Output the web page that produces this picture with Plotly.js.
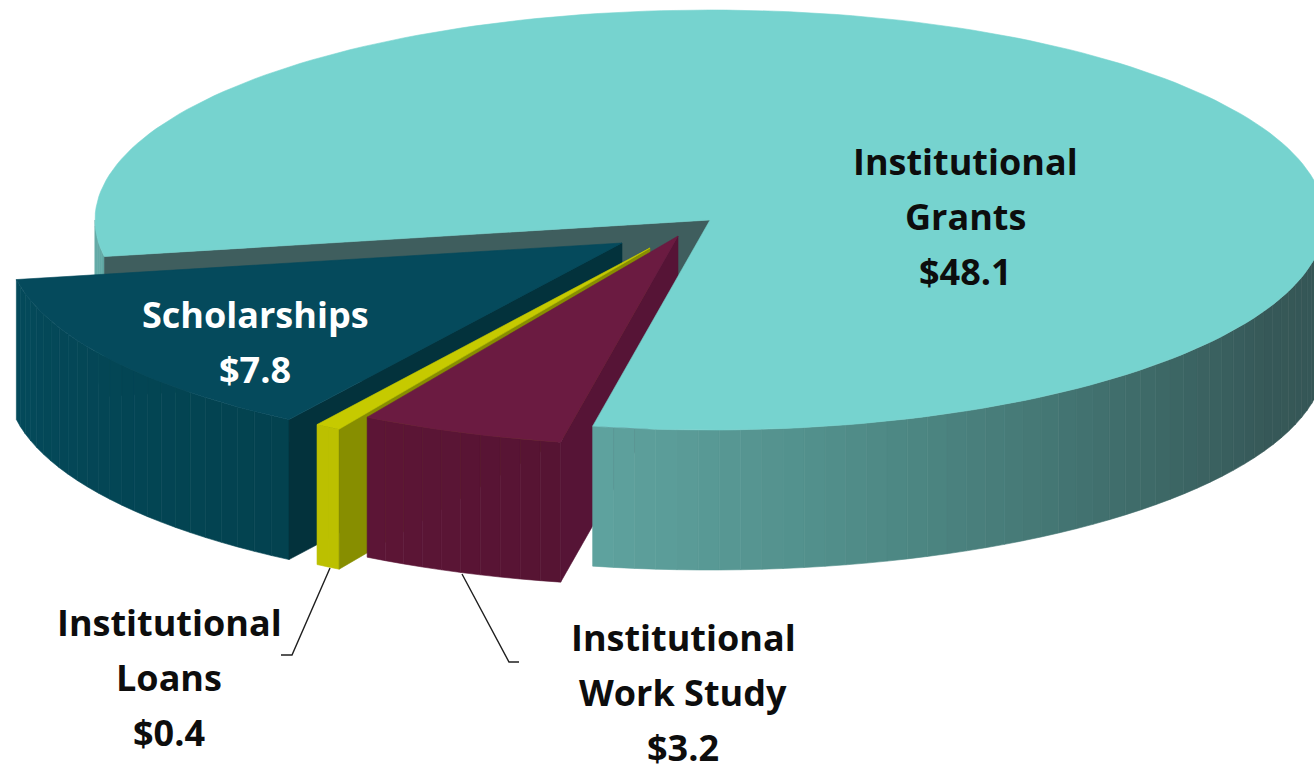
<!DOCTYPE html>
<html>
<head>
<meta charset="utf-8">
<script src="https://cdn.plot.ly/plotly-3.0.1.min.js"></script>
<style>html,body{margin:0;padding:0;background:#fff}#chart{width:1314px;height:764px}</style>
</head>
<body>
<div id="chart"></div>
<script>
// Institutional aid by source, in billions of dollars
const categories = ['Institutional Grants', 'Scholarships', 'Institutional Loans', 'Institutional Work Study'];
const amounts = [48.1, 7.8, 0.4, 3.2];

// Pie projection, in plot units: a tilted disc with pulled-out wedges
const RX = 615, RY = 210, DEPTH = 140;
const FIRST_ANGLE = 259;
const hubs = [[710, 220], [622, 243], [650, 248], [678, 236]];

const palette = {
  top:  ['#76d3cf', '#054a5c', '#c6ca00', '#6b1b41'],
  cut:  ['#3f5e5e', '#03323c', '#878e00', '#561436'],
  wall: [
    [[180, '#62aaa6'], [190, '#62aaa6'], [259, '#5fa39f'], [285, '#4f8b87'], [315, '#3e6a68'], [335, '#365858'], [360, '#345655']],
    [[190, '#044a5b'], [237, '#03424f']],
    [[237, '#bcc000'], [240, '#bcc000']],
    [[239, '#5d1536'], [259, '#561433']]
  ]
};

const total = amounts.reduce((a, b) => a + b, 0);
const spans = [];
let cursor = FIRST_ANGLE;
amounts.forEach(v => {
  const sweep = v / total * 360;
  spans.push([cursor, cursor + sweep]);
  cursor += sweep;
});

const rad = d => d * Math.PI / 180;
const rim = (hub, deg, drop = 0) => [hub[0] + RX * Math.cos(rad(deg)), hub[1] - RY * Math.sin(rad(deg)) + drop];

function hexToRgb(h) { return [1, 3, 5].map(i => parseInt(h.slice(i, i + 2), 16)); }
function wallColor(stops, deg) {
  const d = ((deg % 360) + 360) % 360;
  if (d <= stops[0][0]) return stops[0][1];
  for (let i = 1; i < stops.length; i++) {
    if (d <= stops[i][0]) {
      const t = (d - stops[i - 1][0]) / (stops[i][0] - stops[i - 1][0]);
      const a = hexToRgb(stops[i - 1][1]), b = hexToRgb(stops[i][1]);
      return 'rgb(' + a.map((c, k) => Math.round(c + (b[k] - c) * t)).join(',') + ')';
    }
  }
  return stops[stops.length - 1][1];
}

const traces = [];
function polygon(points, color, name) {
  traces.push({
    type: 'scatter', mode: 'lines', fill: 'toself', fillcolor: color, name: name,
    x: points.map(p => p[0]), y: points.map(p => p[1]),
    line: { color: color, width: 0.6 }, hoverinfo: 'skip', showlegend: false
  });
}
function topFace(i) {
  const pts = [hubs[i]];
  const [a, b] = spans[i];
  const steps = Math.max(4, Math.ceil((b - a) / 1.5));
  for (let s = 0; s <= steps; s++) pts.push(rim(hubs[i], a + (b - a) * s / steps));
  pts.push(hubs[i]);
  polygon(pts, palette.top[i], categories[i]);
}
function outerWall(i, from, to) {
  const steps = Math.max(1, Math.ceil((to - from) / 2));
  for (let s = 0; s < steps; s++) {
    const a = from + (to - from) * s / steps, b = from + (to - from) * (s + 1) / steps;
    polygon([rim(hubs[i], a), rim(hubs[i], b), rim(hubs[i], b, DEPTH), rim(hubs[i], a, DEPTH), rim(hubs[i], a)],
      wallColor(palette.wall[i], (a + b) / 2), categories[i]);
  }
}
function cutFace(i, deg) {
  polygon([hubs[i], rim(hubs[i], deg), rim(hubs[i], deg, DEPTH), [hubs[i][0], hubs[i][1] + DEPTH], hubs[i]],
    palette.cut[i], categories[i]);
}

// Back to front: the large wedge's far face, then the pulled-out wedges, then its top and front
const grantsEnd = spans[0][1] - 360;
outerWall(0, 180, grantsEnd);
cutFace(0, grantsEnd);
[1, 2, 3].forEach(i => {
  outerWall(i, spans[i][0], spans[i][1]);
  cutFace(i, spans[i][1]);
  topFace(i);
});
outerWall(0, spans[0][0], 360);
topFace(0);

// Leader lines for the two narrow wedges
const leaders = [
  { x: [330, 292, 281], y: [568, 655, 655] },
  { x: [462, 509, 519], y: [574, 662, 662] }
];
leaders.forEach(l => traces.push({
  type: 'scatter', mode: 'lines', x: l.x, y: l.y,
  line: { color: '#1f1f1f', width: 1.4 }, hoverinfo: 'skip', showlegend: false
}));

// Each label is stacked line by line
const money = amounts.map(v => '$' + v.toFixed(1));
const labelBlocks = [
  { lines: ['Institutional', 'Grants', money[0]], x: 965, y: 161, step: 55, color: '#0d0d0d' },
  { lines: ['Scholarships', money[1]], x: 255, y: 314, step: 55, color: '#ffffff' },
  { lines: ['Institutional', 'Loans', money[2]], x: 169, y: 622, step: 55, color: '#0d0d0d' },
  { lines: ['Institutional', 'Work Study', money[3]], x: 683, y: 637, step: 55, color: '#0d0d0d' }
];
const annotations = [];
labelBlocks.forEach(b => b.lines.forEach((text, n) => annotations.push({
  x: b.x, y: b.y + n * b.step, xref: 'x', yref: 'y', text: text, showarrow: false,
  xanchor: 'center', yanchor: 'middle',
  font: { family: '"Open Sans", "Noto Sans", sans-serif', size: 36, color: b.color, weight: 700 }
})));

Plotly.newPlot('chart', traces, {
  width: 1314, height: 764,
  margin: { l: 0, r: 0, t: 0, b: 0 },
  paper_bgcolor: '#ffffff', plot_bgcolor: '#ffffff',
  showlegend: false, hovermode: false,
  xaxis: { range: [0, 1314], visible: false, fixedrange: true },
  yaxis: { range: [764, 0], visible: false, fixedrange: true },
  annotations: annotations
}, { displayModeBar: false, staticPlot: true });
</script>
</body>
</html>
